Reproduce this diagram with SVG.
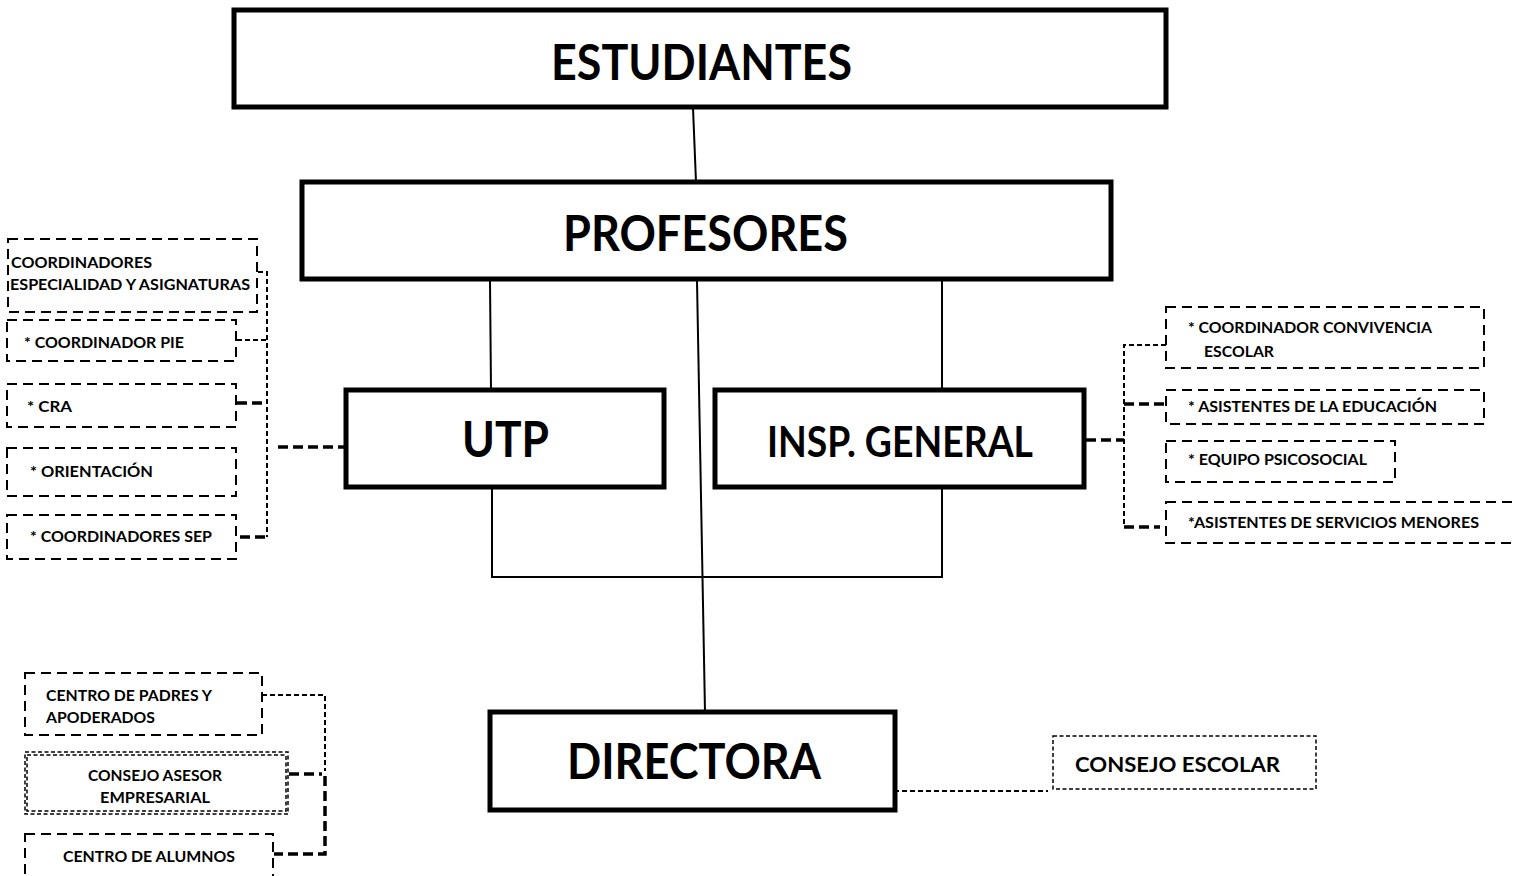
<svg xmlns="http://www.w3.org/2000/svg" width="1515" height="876" viewBox="0 0 1515 876">
<style>
text{font-family:Lato,"Liberation Sans",sans-serif;font-weight:bold;fill:#000}
.big{font-size:50px}
.mid{font-size:42px}
.sm{font-size:15.5px}
.main{fill:#fff;stroke:#000;stroke-width:5}
.dbox{fill:#fff;stroke:#000;stroke-width:2;stroke-dasharray:10,6}
.fbox{fill:#fff;stroke:#000;stroke-width:1.5;stroke-dasharray:4,2.5}
.sol{stroke:#000;stroke-width:2;fill:none}
.fd{stroke:#000;stroke-width:2;fill:none;stroke-dasharray:5,3}
.td{stroke:#000;stroke-width:3.5;fill:none;stroke-dasharray:10,5}
</style>
<rect width="1515" height="876" fill="#fff"/>
<g id="connectors">
<line class="sol" x1="693" y1="108" x2="696" y2="182"/>
<line class="sol" x1="490" y1="281" x2="491" y2="390"/>
<line class="sol" x1="942" y1="281" x2="942" y2="390"/>
<line class="sol" x1="697" y1="281" x2="705" y2="712"/>
<polyline class="sol" points="492,488 492,577 942,577 942,488"/>
<polyline class="fd" points="258,272 267,272 267,537"/>
<line class="fd" x1="237" y1="340" x2="267" y2="340"/>
<line class="td" x1="237" y1="403" x2="267" y2="403"/>
<line class="td" x1="240" y1="537" x2="267" y2="537"/>
<line class="td" x1="278" y1="447" x2="344" y2="447"/>
<line class="td" x1="1086" y1="440" x2="1124" y2="440"/>
<polyline class="fd" points="1166,345 1124,345 1124,527"/>
<line class="td" x1="1124" y1="404" x2="1166" y2="404"/>
<line class="td" x1="1124" y1="527" x2="1160" y2="527"/>
<polyline class="fd" points="262,695 325,695 325,771"/>
<line class="td" x1="289" y1="774" x2="322" y2="774"/>
<polyline class="td" points="325,776 325,854 274,854"/>
<line class="fd" x1="894" y1="791" x2="1048" y2="791"/>
</g>
<g id="estudiantes"><rect class="main" x="234" y="10" width="932" height="97"/><text class="big" x="551" y="80" textLength="301" lengthAdjust="spacingAndGlyphs">ESTUDIANTES</text></g>
<g id="profesores"><rect class="main" x="302" y="182" width="809" height="97"/><text class="big" x="563" y="251" textLength="285" lengthAdjust="spacingAndGlyphs">PROFESORES</text></g>
<g id="utp"><rect class="main" x="346" y="390" width="318" height="97"/><text class="big" x="462" y="457" textLength="87" lengthAdjust="spacingAndGlyphs">UTP</text></g>
<g id="insp"><rect class="main" x="715" y="390" width="369" height="97"/><text class="mid" x="767" y="457" textLength="266" lengthAdjust="spacingAndGlyphs">INSP. GENERAL</text></g>
<g id="directora"><rect class="main" x="490" y="712" width="405" height="98"/><text class="big" x="567" y="779" textLength="254" lengthAdjust="spacingAndGlyphs">DIRECTORA</text></g>
<g id="coord-esp"><rect class="dbox" x="8" y="239" width="249" height="73"/><text class="sm" x="11" y="268" textLength="141" lengthAdjust="spacingAndGlyphs">COORDINADORES</text><text class="sm" x="10" y="290" textLength="240" lengthAdjust="spacingAndGlyphs">ESPECIALIDAD Y ASIGNATURAS</text></g>
<g id="coord-pie"><rect class="dbox" x="7" y="320" width="229" height="41"/><text class="sm" x="24" y="348" textLength="160" lengthAdjust="spacingAndGlyphs">* COORDINADOR PIE</text></g>
<g id="cra"><rect class="dbox" x="7" y="384" width="229" height="43"/><text class="sm" x="27" y="412" textLength="45" lengthAdjust="spacingAndGlyphs">* CRA</text></g>
<g id="orientacion"><rect class="dbox" x="7" y="448" width="229" height="48"/><text class="sm" x="30" y="477" textLength="123" lengthAdjust="spacingAndGlyphs">* ORIENTACIÓN</text></g>
<g id="coord-sep"><rect class="dbox" x="7" y="515" width="229" height="44"/><text class="sm" x="30" y="542" textLength="182" lengthAdjust="spacingAndGlyphs">* COORDINADORES SEP</text></g>
<g id="conv"><rect class="dbox" x="1166" y="307" width="318" height="61"/><text class="sm" x="1188" y="333" textLength="244" lengthAdjust="spacingAndGlyphs">* COORDINADOR CONVIVENCIA</text><text class="sm" x="1204" y="357" textLength="70" lengthAdjust="spacingAndGlyphs">ESCOLAR</text></g>
<g id="asist-edu"><rect class="dbox" x="1166" y="390" width="318" height="34"/><text class="sm" x="1188" y="412" textLength="249" lengthAdjust="spacingAndGlyphs">* ASISTENTES DE LA EDUCACIÓN</text></g>
<g id="psico"><rect class="dbox" x="1166" y="441" width="229" height="41"/><text class="sm" x="1188" y="465" textLength="179" lengthAdjust="spacingAndGlyphs">* EQUIPO PSICOSOCIAL</text></g>
<g id="serv"><rect class="dbox" x="1166" y="502" width="352" height="41"/><text class="sm" x="1188" y="528" textLength="291" lengthAdjust="spacingAndGlyphs">*ASISTENTES DE SERVICIOS MENORES</text></g>
<g id="padres"><rect class="dbox" x="25" y="673" width="237" height="62"/><text class="sm" x="46" y="701" textLength="166" lengthAdjust="spacingAndGlyphs">CENTRO DE PADRES Y</text><text class="sm" x="46" y="723" textLength="109" lengthAdjust="spacingAndGlyphs">APODERADOS</text></g>
<g id="asesor"><rect class="fbox" x="25" y="752" width="263" height="62"/><rect class="fbox" x="27" y="755" width="259" height="56" style="fill:none"/><text class="sm" x="155" y="781" text-anchor="middle" textLength="134" lengthAdjust="spacingAndGlyphs">CONSEJO ASESOR</text><text class="sm" x="155" y="803" text-anchor="middle" textLength="110" lengthAdjust="spacingAndGlyphs">EMPRESARIAL</text></g>
<g id="alumnos"><rect class="dbox" x="25" y="834" width="248" height="60"/><text class="sm" x="63" y="862" textLength="172" lengthAdjust="spacingAndGlyphs">CENTRO DE ALUMNOS</text></g>
<g id="consejo-escolar"><rect class="fbox" x="1053" y="736" width="263" height="53"/><text style="font-size:20px" x="1075" y="772" textLength="205" lengthAdjust="spacingAndGlyphs">CONSEJO ESCOLAR</text></g>
</svg>
